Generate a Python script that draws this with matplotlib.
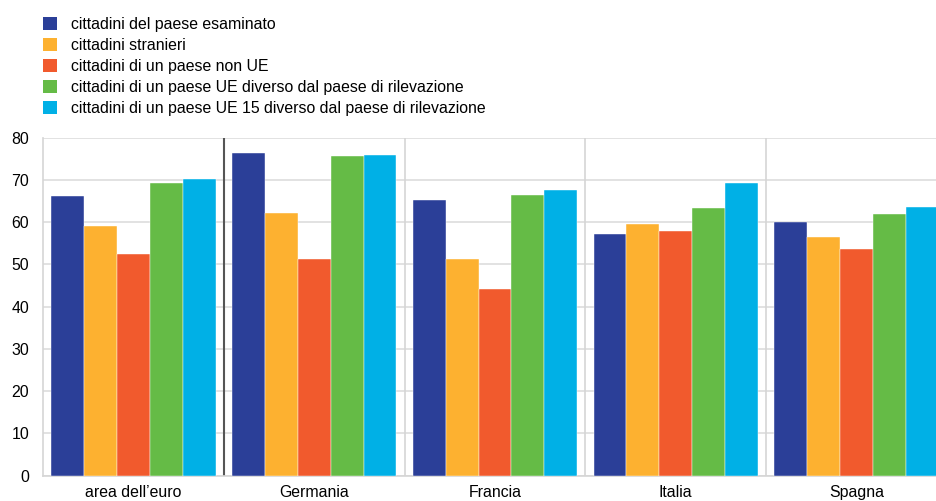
import matplotlib
matplotlib.use("Agg")
import matplotlib.pyplot as plt
import numpy as np
from matplotlib.patches import Patch

plt.rcParams['font.family'] = ['Liberation Sans', 'DejaVu Sans']

categories = ["area dell\u2019euro", "Germania", "Francia", "Italia", "Spagna"]
series_names = [
    "cittadini del paese esaminato",
    "cittadini stranieri",
    "cittadini di un paese non UE",
    "cittadini di un paese UE diverso dal paese di rilevazione",
    "cittadini di un paese UE 15 diverso dal paese di rilevazione",
]
paese_esaminato = [66.2, 76.4, 65.2, 57.1, 60.0]
stranieri = [59.1, 62.2, 51.4, 59.6, 56.6]
non_ue = [52.4, 51.4, 44.3, 57.8, 53.7]
ue_diverso = [69.3, 75.7, 66.4, 63.4, 61.9]
ue15_diverso = [70.2, 75.8, 67.7, 69.3, 63.7]
series = [paese_esaminato, stranieri, non_ue, ue_diverso, ue15_diverso]
colors = ['#2B3F98', '#FDB130', '#F15A2D', '#65BB46', '#00B0E6']

FS = 11.4

fig = plt.figure(figsize=(9.37, 5.01), dpi=100)
ax = fig.add_axes([43/937, (501-475.7)/501, (947-43)/937, (475.7-137.7)/501])

x = np.arange(len(categories))
w = 0.182
for i, (vals, c) in enumerate(zip(series, colors)):
    ax.bar(x + (i - 2) * w, vals, width=w, color=c, edgecolor='white',
           linewidth=0.3, zorder=3)

ax.set_xlim(-0.5, len(categories) - 0.5)
ax.set_ylim(0, 80)
ax.set_yticks(np.arange(0, 81, 10))
ax.set_xticks(x)
ax.set_xticklabels(categories)
ax.tick_params(axis='both', length=0, labelsize=FS, colors='black')
ax.tick_params(axis='x', pad=7)
ax.tick_params(axis='y', pad=10)

ax.yaxis.grid(True, color='#DDDDDD', linewidth=1.2, zorder=0)
for sep in np.arange(0.5, len(categories) - 0.5, 1.0):
    if sep == 0.5:
        ax.axvline(sep, color='#555555', linewidth=1.5, zorder=2)
    else:
        ax.axvline(sep, color='#D5D5D5', linewidth=1.2, zorder=2)

for s in ['top', 'right']:
    ax.spines[s].set_visible(False)
for s in ['left', 'bottom']:
    ax.spines[s].set_color('#D5D5D5')
    ax.spines[s].set_linewidth(1.2)

handles = [Patch(facecolor=c, edgecolor='none') for c in colors]
fig.legend(handles, series_names, loc='upper left',
           bbox_to_anchor=(43/937, 1 - 17/501), frameon=False,
           fontsize=FS, handlelength=0.9, handleheight=0.9,
           handletextpad=0.85, labelspacing=0.37, borderaxespad=0,
           borderpad=0)

fig.savefig("out.png", dpi=100)
